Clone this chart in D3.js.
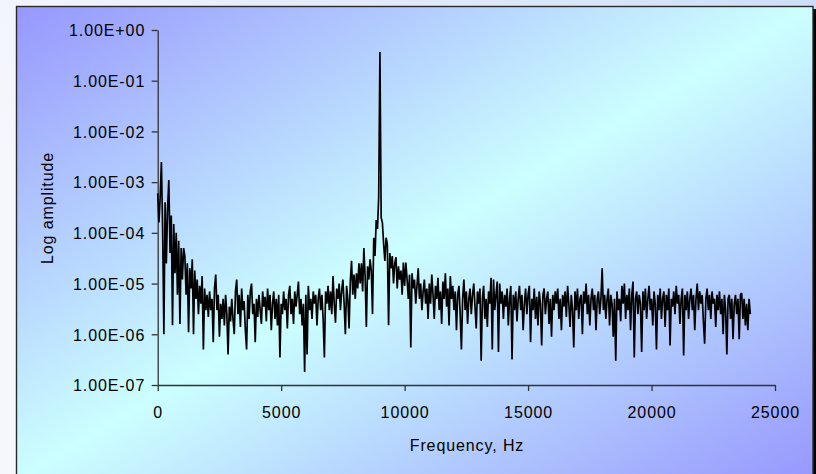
<!DOCTYPE html>
<html>
<head>
<meta charset="utf-8">
<script src="https://cdn.jsdelivr.net/npm/d3@7"></script>
<style>
  html, body { margin: 0; padding: 0; background: #fff; }
  svg { display: block; }
  text { font-family: "Liberation Sans", Arial, Helvetica, sans-serif; }
</style>
</head>
<body>
<svg id="chart" width="816" height="474"></svg>
<script>
// Spectrum bins: one amplitude every 50 Hz, 0 Hz to 24000 Hz
const binWidthHz = 50;

const amplitude = [
  // 0 - 950 Hz
  6e-4, 1.6e-4, 5e-4, 2.5e-3, 1.2e-4, 1e-6, 4e-4, 2.5e-5, 3e-4, 1.1e-3,
  4e-5, 2.2e-4, 1.5e-6, 1.5e-4, 1.6e-5, 1e-4, 6e-6, 7e-5, 1.6e-6, 5e-5,
  // 1000 - 1950 Hz
  1.2e-5, 5e-5, 3.5e-5, 6e-6, 2.5e-5, 1.1e-6, 2e-5, 8e-6, 3e-5, 1e-6,
  1.8e-5, 5e-6, 1.2e-5, 2.5e-6, 9e-6, 4e-6, 1.4e-5, 5e-7, 8e-6, 3e-6,
  // 2000 - 2950 Hz
  6e-6, 2.2e-6, 7e-6, 3e-6, 5e-6, 7e-7, 8e-6, 1.5e-5, 3e-6, 6e-6,
  9e-7, 4e-6, 2e-6, 5e-6, 1.5e-6, 6e-6, 2.5e-6, 4e-7, 3.5e-6, 1.8e-6,
  // 3000 - 3950 Hz
  5e-6, 2e-6, 1e-6, 7e-6, 1.2e-5, 2.5e-6, 6e-6, 1.4e-6, 8e-6, 3e-6,
  4.5e-6, 1.2e-6, 5e-7, 6e-6, 2e-6, 7e-6, 1e-5, 2.5e-6, 4e-6, 7e-7,
  // 4000 - 4950 Hz
  5e-6, 2.2e-6, 6e-6, 3e-6, 1.6e-6, 7e-6, 3.5e-6, 5.5e-6, 1.8e-6, 8e-6,
  3e-6, 6e-6, 1.2e-6, 4e-6, 7e-6, 2e-6, 5e-6, 1.5e-6, 6e-6, 3.5e-7,
  // 5000 - 5950 Hz
  4e-6, 2.5e-6, 7e-6, 3e-6, 5e-6, 1.3e-6, 6e-6, 9e-6, 2.5e-6, 5e-6,
  1.6e-6, 7e-6, 3.5e-6, 6e-6, 1.1e-5, 2.5e-6, 5e-6, 1.5e-6, 4e-6, 1.8e-7,
  // 6000 - 6950 Hz
  6e-6, 4e-7, 9e-6, 3e-6, 5e-6, 2e-6, 7e-6, 4e-6, 6e-6, 1.5e-6,
  5e-6, 8e-6, 3e-6, 6e-6, 2e-6, 3.5e-7, 7e-6, 4e-6, 9e-6, 3e-6,
  // 7000 - 7950 Hz
  7e-6, 2.5e-6, 1.4e-5, 4e-6, 1.7e-6, 8e-6, 5e-6, 1e-5, 3e-6, 7e-6,
  1.2e-5, 4e-6, 1e-6, 9e-6, 5e-6, 1.3e-6, 1.1e-5, 2.8e-5, 6e-6, 1.5e-5,
  // 8000 - 8950 Hz
  5e-6, 1.6e-5, 8e-6, 2.5e-5, 1e-5, 2.5e-5, 7e-6, 5e-5, 1.4e-5, 1.4e-6,
  2.2e-5, 1.2e-5, 3e-5, 1.8e-5, 2.5e-6, 8e-5, 3.5e-5, 1.8e-4, 1.2e-4, 5e-4,
  // 9000 - 9950 Hz
  3.7e-1, 2e-4, 1.6e-4, 6e-5, 2.8e-5, 8e-5, 6e-5, 1.5e-6, 4e-5, 2e-5,
  3.5e-5, 1e-5, 2.5e-5, 3.3e-5, 8e-6, 2.2e-5, 1.2e-5, 1.8e-5, 6e-6, 2.6e-5,
  // 10000 - 10950 Hz
  9e-6, 2.6e-5, 1.2e-5, 5e-6, 1.5e-5, 5.5e-7, 1.6e-5, 8e-6, 1.2e-5, 4e-6,
  9e-6, 2e-5, 5e-6, 1e-5, 3e-6, 7e-6, 1.2e-5, 4e-6, 8e-6, 2e-6,
  // 11000 - 11950 Hz
  1e-5, 4e-6, 1.5e-5, 6e-6, 2e-6, 9e-6, 5e-6, 1.3e-5, 3e-6, 7e-6,
  1.6e-6, 1.1e-5, 5e-6, 1.6e-5, 3.5e-6, 8e-6, 1.5e-6, 1.4e-5, 5e-6, 9e-6,
  // 12000 - 12950 Hz
  3e-6, 7e-6, 1.2e-6, 6e-6, 9e-6, 2.5e-6, 5e-7, 5e-6, 1.2e-5, 3e-6,
  7e-6, 1.6e-6, 5e-6, 8e-6, 2.5e-6, 6e-6, 1e-5, 3.5e-6, 1.3e-6, 7e-6,
  // 13000 - 13950 Hz
  4e-6, 8e-6, 3e-7, 5e-6, 9e-6, 2e-6, 5e-6, 1.4e-6, 7e-6, 4e-6,
  1.3e-5, 5e-7, 1.2e-5, 3e-6, 6e-6, 1.1e-5, 4.5e-7, 1e-5, 4e-6, 7e-6,
  // 14000 - 14950 Hz
  2e-6, 6e-6, 3.5e-6, 8e-6, 1.5e-6, 5e-6, 9e-6, 3.2e-7, 6e-6, 3e-6,
  7e-6, 1.8e-6, 5e-6, 9e-6, 3e-6, 6e-6, 1.2e-6, 4e-6, 8e-6, 2.5e-6,
  // 15000 - 15950 Hz
  6e-6, 9e-6, 7e-7, 5e-6, 3e-6, 8e-6, 2e-6, 5.5e-6, 1.5e-6, 7e-6,
  4e-6, 6e-7, 6e-6, 8e-6, 2.5e-6, 5e-6, 7e-6, 1.6e-6, 5e-6, 9e-7,
  // 16000 - 16950 Hz
  6e-6, 3e-6, 7e-6, 4e-6, 8e-6, 2e-6, 5e-6, 1.2e-6, 6e-6, 3.5e-6,
  7e-6, 2.2e-6, 9e-6, 4e-6, 1.4e-6, 6e-6, 3e-6, 5.5e-7, 7e-6, 3e-6,
  // 17000 - 17950 Hz
  8e-6, 2e-6, 5e-6, 6e-6, 1e-6, 7e-6, 4e-6, 1e-5, 2.5e-6, 6e-6,
  1.5e-6, 5e-6, 8e-6, 3e-6, 6e-6, 1.2e-6, 5e-6, 7e-6, 2.5e-6, 5e-6,
  // 18000 - 18950 Hz
  2e-5, 3e-6, 6e-6, 2e-6, 5e-6, 8e-6, 1.5e-6, 6e-6, 4e-6, 9e-7,
  5e-6, 3e-7, 7e-6, 3e-6, 5e-6, 1.8e-6, 9e-6, 4e-6, 1e-5, 2e-6,
  // 19000 - 19950 Hz
  6e-6, 3e-6, 8e-6, 1.2e-6, 6e-6, 1.1e-5, 3.5e-7, 5e-6, 7e-6, 2.5e-6,
  6e-6, 4e-6, 4.5e-7, 7e-6, 3e-6, 8e-6, 2e-6, 5e-6, 9e-6, 3e-6,
  // 20000 - 20950 Hz
  5e-6, 1.5e-6, 7e-6, 4e-6, 5e-7, 6e-6, 3e-6, 8e-6, 2e-6, 5e-6,
  7e-6, 1.4e-6, 6e-6, 3e-6, 8e-6, 6e-7, 5e-6, 3.5e-6, 7e-6, 2.5e-6,
  // 21000 - 21950 Hz
  9e-6, 4e-6, 6e-6, 1.6e-6, 5e-6, 8e-6, 3.8e-7, 6e-6, 3e-6, 7e-6,
  2e-6, 5e-6, 8e-6, 3e-6, 6e-6, 1.2e-6, 5e-6, 1e-5, 3e-6, 7e-6,
  // 22000 - 22950 Hz
  4e-6, 6e-6, 1.8e-6, 6.5e-7, 5e-6, 8e-6, 3e-6, 6e-6, 2e-6, 7e-6,
  4e-6, 5e-6, 1.4e-6, 6e-6, 3e-6, 7e-6, 2.5e-6, 5e-6, 1e-6, 6e-6,
  // 23000 - 24000 Hz
  3e-6, 4e-7, 5e-6, 6e-6, 2e-6, 5e-6, 8e-7, 4e-6, 6e-6, 2.5e-6,
  5e-6, 8e-7, 6e-6, 6.5e-6, 2e-6, 5e-6, 1.5e-6, 4e-6, 1.2e-6, 5e-6,
  2.5e-6
];

const xTickValues = [0, 5000, 10000, 15000, 20000, 25000];
const yTickValues = [1e0, 1e-1, 1e-2, 1e-3, 1e-4, 1e-5, 1e-6, 1e-7];
const yTickLabels = ["1.00E+00", "1.00E-01", "1.00E-02", "1.00E-03",
                     "1.00E-04", "1.00E-05", "1.00E-06", "1.00E-07"];
const xAxisTitle = "Frequency, Hz";
const yAxisTitle = "Log amplitude";

const spectrum = amplitude.map((a, i) => ({ freq: i * binWidthHz, amp: a }));

const svg = d3.select("#chart");
const W = 816, H = 474;
const plot = { left: 157.7, right: 775, top: 30, bottom: 385 };

// gradients
const defs = svg.append("defs");
const pageGrad = defs.append("linearGradient")
  .attr("id", "pageFill").attr("x1", 0).attr("y1", 0.3).attr("x2", 1).attr("y2", 0);
pageGrad.append("stop").attr("offset", 0).attr("stop-color", "#f6f7fd");
pageGrad.append("stop").attr("offset", 1).attr("stop-color", "#cddff8");

const areaGrad = defs.append("linearGradient")
  .attr("id", "areaFill").attr("x1", 0).attr("y1", 0).attr("x2", 1).attr("y2", 1);
areaGrad.append("stop").attr("offset", 0).attr("stop-color", "#9797fd");
areaGrad.append("stop").attr("offset", 0.5).attr("stop-color", "#ccffff");
areaGrad.append("stop").attr("offset", 1).attr("stop-color", "#9797fd");

svg.append("rect").attr("width", W).attr("height", H).attr("fill", "url(#pageFill)");

// chart frame with a drop shadow on the right
svg.append("rect").attr("x", 813).attr("y", 9).attr("width", 3).attr("height", H)
  .attr("fill", "#000");
svg.append("rect").attr("x", 16.5).attr("y", 6.5).attr("width", 796.5).attr("height", H)
  .attr("fill", "url(#areaFill)").attr("stroke", "#2a2a2a").attr("stroke-width", 1.4);

const x = d3.scaleLinear().domain([0, 25000]).range([plot.left, plot.right]);
const y = d3.scaleLog().domain([1e-7, 1]).range([plot.bottom, plot.top]);

const fontSize = "16px";

// y axis
const yAxis = svg.append("g")
  .attr("transform", `translate(${plot.left},0)`)
  .call(d3.axisLeft(y).tickValues(yTickValues)
    .tickFormat((d, i) => yTickLabels[i])
    .tickSize(6).tickSizeOuter(0).tickPadding(6.5));

// x axis
const xAxis = svg.append("g")
  .attr("transform", `translate(0,${plot.bottom})`)
  .call(d3.axisBottom(x).tickValues(xTickValues)
    .tickFormat(d3.format("d"))
    .tickSize(6).tickSizeOuter(0).tickPadding(16));

[yAxis, xAxis].forEach(g => {
  g.select(".domain").attr("stroke", "#333").attr("stroke-width", 1.3);
  g.selectAll(".tick line").attr("stroke", "#333").attr("stroke-width", 1.3);
  g.selectAll(".tick text")
    .attr("fill", "#000")
    .style("font-size", fontSize)
    .style("letter-spacing", "0.9px")
    .style("font-family", '"Liberation Sans", Arial, sans-serif');
});
yAxis.selectAll(".tick text").attr("dy", "0.36em");

// spectrum line
const line = d3.line()
  .x(d => x(d.freq))
  .y(d => y(d.amp));

svg.append("path")
  .datum(spectrum)
  .attr("d", line)
  .attr("fill", "none")
  .attr("stroke", "#000")
  .attr("stroke-width", 1.7)
  .attr("stroke-linejoin", "miter")
  .attr("stroke-miterlimit", 3);

// axis titles
svg.append("text")
  .attr("x", 467).attr("y", 450.5)
  .attr("text-anchor", "middle")
  .attr("fill", "#000")
  .style("font-size", fontSize)
  .style("letter-spacing", "0.9px")
  .text(xAxisTitle);

svg.append("text")
  .attr("transform", "translate(52.5,208) rotate(-90)")
  .attr("text-anchor", "middle")
  .attr("fill", "#000")
  .style("font-size", fontSize)
  .style("letter-spacing", "0.9px")
  .text(yAxisTitle);
</script>
</body>
</html>
